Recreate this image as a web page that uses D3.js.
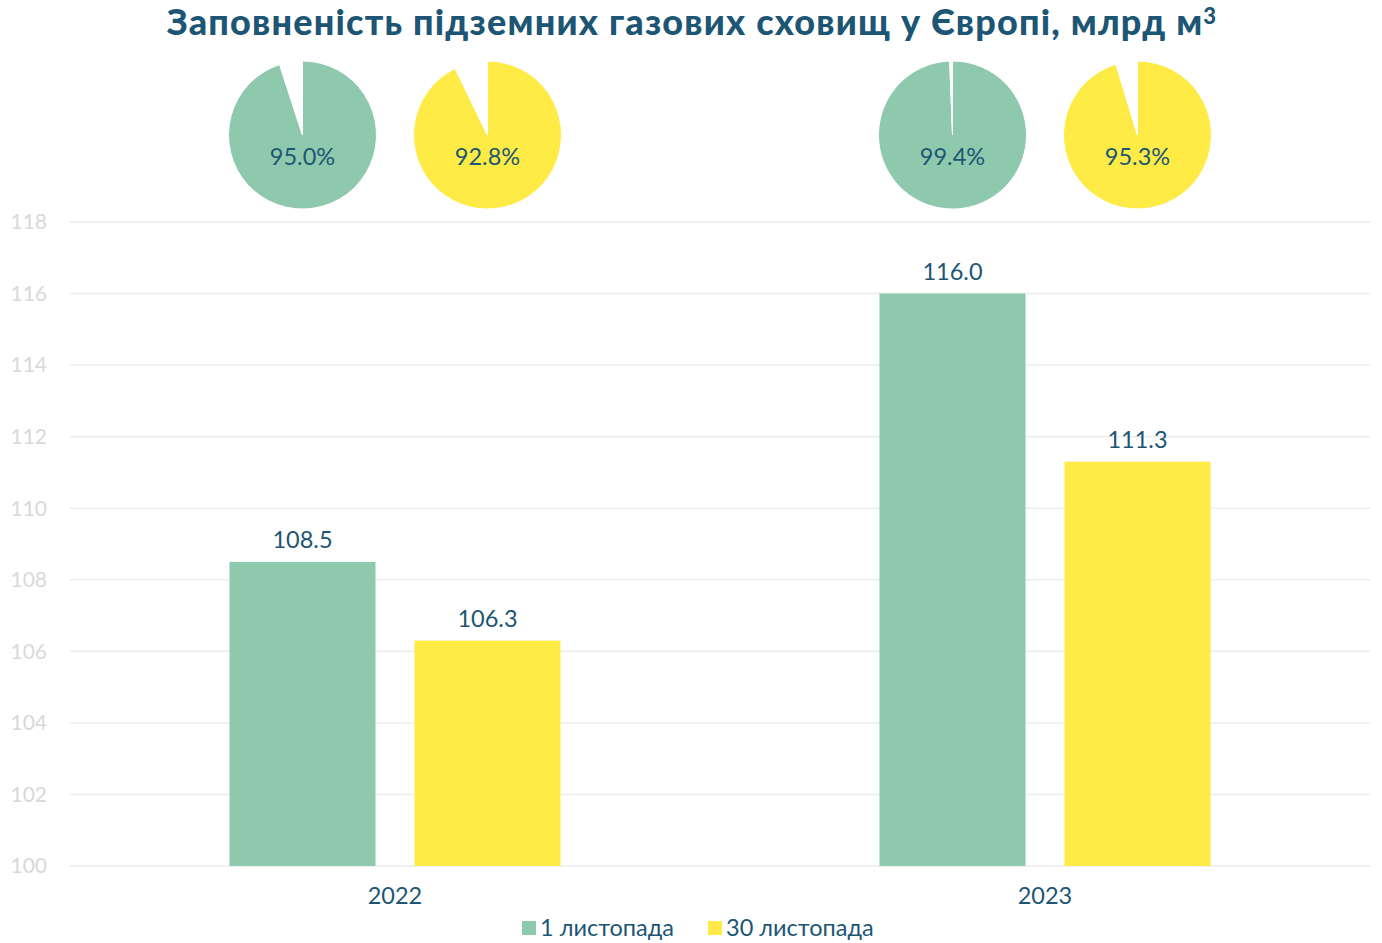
<!DOCTYPE html>
<html>
<head>
<meta charset="utf-8">
<script src="https://cdn.jsdelivr.net/npm/d3@7"></script>
<style>
  body { margin: 0; background: #fff; }
  text { font-family: Lato, "Open Sans", sans-serif; }
</style>
</head>
<body>
<div id="chart"></div>
<script>
// data
const years = ['2022', '2023'];
const series = ['1 листопада', '30 листопада'];
const volumes = [[108.5, 106.3], [116.0, 111.3]];
const fillPct = [[95.0, 92.8], [99.4, 95.3]];
const yTicks = [100, 102, 104, 106, 108, 110, 112, 114, 116, 118];

const width = 1382;
const height = 943;
const colors = ['#8ec9ad', '#ffeb45'];
const dark = '#1d5674';

const svg = d3.select('#chart')
  .append('svg')
  .attr('width', width)
  .attr('height', height);

// title
const title = svg.append('text')
  .attr('x', 692)
  .attr('y', 35)
  .attr('text-anchor', 'middle')
  .attr('fill', dark)
  .style('font-size', '36px')
  .style('font-weight', 900)
  .style('letter-spacing', '1.2px');
title.append('tspan').text('Заповненість підземних газових сховищ у Європі, млрд м');
title.append('tspan')
  .attr('dy', -11)
  .style('font-size', '22px')
  .text('3');

const x = d3.scaleBand().domain(years).range([70, 1370]);
const xSub = d3.scaleBand().domain(series).range([0, 331]).paddingInner(39 / 185);
const y = d3.scaleLinear().domain([100, 118]).range([866, 222]);
const groupOffset = (x.bandwidth() - 331) / 2;

// gridlines
svg.append('g')
  .selectAll('line')
  .data(yTicks)
  .enter()
  .append('line')
  .attr('x1', 70)
  .attr('x2', 1370)
  .attr('y1', d => y(d))
  .attr('y2', d => y(d))
  .attr('stroke', '#ececec')
  .attr('stroke-width', 1.5);

// y tick labels
svg.append('g')
  .selectAll('text')
  .data(yTicks)
  .enter()
  .append('text')
  .attr('x', 47)
  .attr('y', d => y(d))
  .attr('dy', '0.35em')
  .attr('text-anchor', 'end')
  .attr('fill', '#d9d9d9')
  .style('font-size', '21px')
  .text(d => d);

// bars
const groups = svg.selectAll('g.year')
  .data(years)
  .enter()
  .append('g')
  .attr('class', 'year')
  .attr('transform', d => `translate(${x(d) + groupOffset},0)`);

groups.selectAll('rect')
  .data((d, i) => series.map((s, j) => ({ s, j, v: volumes[i][j] })))
  .enter()
  .append('rect')
  .attr('x', d => xSub(d.s))
  .attr('width', xSub.bandwidth())
  .attr('y', d => y(d.v))
  .attr('height', d => y(100) - y(d.v))
  .attr('fill', d => colors[d.j]);

groups.selectAll('text.val')
  .data((d, i) => series.map((s, j) => ({ s, j, v: volumes[i][j] })))
  .enter()
  .append('text')
  .attr('class', 'val')
  .attr('x', d => xSub(d.s) + xSub.bandwidth() / 2)
  .attr('y', d => y(d.v) - 14)
  .attr('text-anchor', 'middle')
  .attr('fill', dark)
  .style('font-size', '23.5px')
  .text(d => d.v.toFixed(1));

// pies
const pie = d3.pie().sort(null).value(d => d);
const arc = d3.arc().innerRadius(0).outerRadius(74);

groups.each(function (yr, i) {
  const g = d3.select(this);
  series.forEach((s, j) => {
    const p = fillPct[i][j];
    const pg = g.append('g')
      .attr('transform', `translate(${xSub(s) + xSub.bandwidth() / 2},135)`);
    pg.selectAll('path')
      .data(pie([p, 100 - p]))
      .enter()
      .append('path')
      .attr('d', arc)
      .attr('fill', (d, k) => k === 0 ? colors[j] : '#fff')
      .attr('stroke', '#fff')
      .attr('stroke-width', 1);
    pg.append('text')
      .attr('y', 22)
      .attr('dy', '0.35em')
      .attr('text-anchor', 'middle')
      .attr('fill', dark)
      .style('font-size', '23.5px')
      .text(p.toFixed(1) + '%');
  });
});

// x labels
svg.append('g')
  .selectAll('text')
  .data(years)
  .enter()
  .append('text')
  .attr('x', d => x(d) + x.bandwidth() / 2)
  .attr('y', 896)
  .attr('dy', '0.35em')
  .attr('text-anchor', 'middle')
  .attr('fill', dark)
  .style('font-size', '23.5px')
  .text(d => d);

// legend
const legend = svg.append('g');
const legendX = [522, 708];
series.forEach((s, j) => {
  legend.append('rect')
    .attr('x', legendX[j])
    .attr('y', 921)
    .attr('width', 14)
    .attr('height', 14)
    .attr('fill', colors[j]);
  legend.append('text')
    .attr('x', legendX[j] + 18)
    .attr('y', 928)
    .attr('dy', '0.35em')
    .attr('fill', dark)
    .style('font-size', '23.5px')
    .text(s);
});
</script>
</body>
</html>
